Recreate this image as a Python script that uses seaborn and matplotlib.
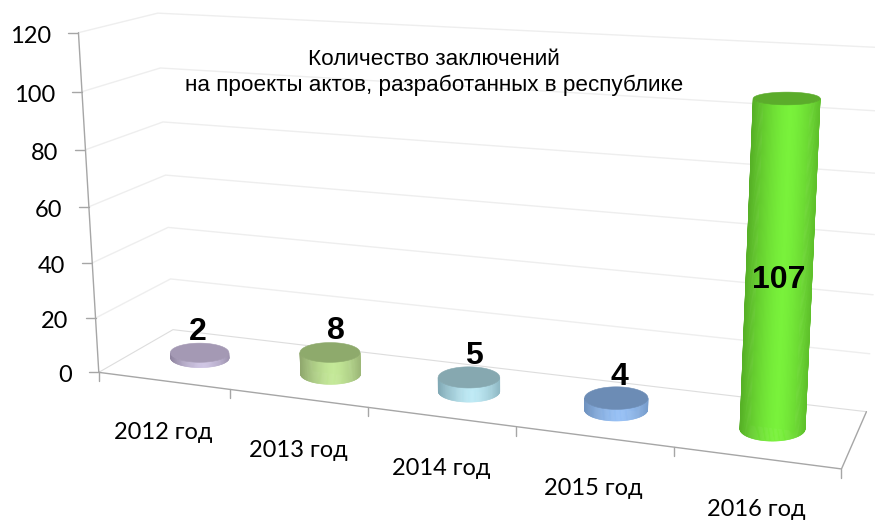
"""
3D-looking cylinder chart: conclusions on draft acts per year
"""

# imports
import numpy as np
import matplotlib
matplotlib.use("Agg")
import matplotlib.pyplot as plt
from matplotlib.colors import to_rgb
from matplotlib.transforms import Affine2D, Transform
import seaborn as sns

# data
YEARS = ['2012 год', '2013 год', '2014 год', '2015 год', '2016 год']
VALUES = [2, 8, 5, 4, 107]
Y_TICKS = [0, 20, 40, 60, 80, 100, 120]
TITLE = "Количество заключений\nна проекты актов, разработанных в республике"

# colours
SIDE_BRIGHT = ['#CFC5E4', '#C4E998', '#BEEAF5', '#96C0F5', '#79F23B']
SIDE_DARK = ['#8F849F', '#8FA76D', '#80A8B4', '#6F92BF', '#56B026']
TOP_COLOR = ['#A499B4', '#8EAA6C', '#86A8B0', '#6C8CB5', '#5BAC2B']

# settings
WIDTH, HEIGHT = 875, 520
BAR_WIDTH = 0.40
BAR_DEPTH = 0.22
MAX_RX = 33  # half width of the nearest cylinder (px), near bars shrink only half as fast
GRID = '#EEEEEE'
AXIS = '#A6A6A6'
LABEL_SHIFT = [-1.5, 5.5, 4.5, 3, 0]  # horizontal nudge of the value labels (px)

# frame calibration: (category, value, depth) -> image pixel
FRAME = [
    (0, 0, 0, 99, 372), (1, 0, 0, 230, 390), (2, 0, 0, 369, 408),
    (3, 0, 0, 517, 428), (4, 0, 0, 673, 447), (5, 0, 0, 841, 468),
    (0, 20, 0, 95, 317), (0, 80, 0, 85, 150), (0, 100, 0, 81.5, 91),
    (0, 120, 0, 79, 33),
    (0, 0, 1, 173, 329), (5, 0, 1, 866, 412),
    (0, 80, 1, 163, 122), (0, 100, 1, 160, 68), (0, 120, 1, 158, 14),
    (5, 20, 1, 870, 355), (5, 80, 1, 880, 170), (5, 100, 1, 884, 113),
]


def fit_camera(frame):
    rows, rhs = [], []
    for c, v, d, px, py in frame:
        v = v / 100
        rows.append([c, v, d, 1, 0, 0, 0, 0, -px * c, -px * v, -px * d])
        rows.append([0, 0, 0, 0, c, v, d, 1, -py * c, -py * v, -py * d])
        rhs += [px, py]
    sol = np.linalg.lstsq(np.array(rows, float), np.array(rhs, float), rcond=None)[0]
    return np.append(sol, 1).reshape(3, 4)


CAMERA = fit_camera(FRAME)


def project(c, v, d):
    c, v, d = np.broadcast_arrays(np.asarray(c, float), np.asarray(v, float),
                                  np.asarray(d, float))
    pts = np.stack([c, v / 100, d, np.ones_like(c)])
    out = np.tensordot(CAMERA, pts, axes=(1, 0))
    return out[0] / out[2], out[1] / out[2]


def ellipse(pos, value, radius, angles):
    # level ellipse around the projected bar axis, sized by the perspective there
    cx, cy = project(pos, value, 0.5)
    x_lo, _ = project(pos - radius, value, 0.5)
    x_hi, _ = project(pos + radius, value, 0.5)
    _, y_back = project(pos, value, 0.5 + BAR_DEPTH)
    _, y_front = project(pos, value, 0.5 - BAR_DEPTH)
    rx = ((x_hi - x_lo) / 2 + MAX_RX) / 2
    return (cx + rx * np.cos(angles),
            cy - (y_front - y_back) / 2 * np.sin(angles))


class BarPlane(Transform):
    """Category index and value to display, in the plane through the bar axes"""
    input_dims = 2
    output_dims = 2

    def transform_non_affine(self, values):
        px, py = project(values[:, 0] + 0.5, values[:, 1], 0.5)
        return np.column_stack([px, HEIGHT - py])


def main():
    sns.set_theme(style="white")
    plt.rcParams['font.family'] = ['Lato', 'Open Sans', 'DejaVu Sans']

    fig = plt.figure(figsize=[WIDTH / 100, HEIGHT / 100], dpi=100)
    ax = fig.add_axes([0, 0, 1, 1])
    pixels = Affine2D().scale(1, -1).translate(0, HEIGHT)

    def line(c, v, d, **kw):
        px, py = project(c, v, d)
        ax.plot(px, py, transform=pixels, clip_on=True, **kw)

    # bars first, so seaborn sets the category positions and heights
    sns.barplot(x=YEARS, y=VALUES, hue=YEARS, palette=SIDE_BRIGHT, saturation=1,
                width=BAR_WIDTH, legend=False, ax=ax, zorder=3)
    ax.set_axis_off()

    # walls and floor
    n_cat = len(YEARS)
    for tick in Y_TICKS[1:]:
        line([0, 0, n_cat], [tick] * 3, [0, 1, 1], color=GRID, lw=1, zorder=1)
    line([0, 0, n_cat], [0, 0, 0], [0, 1, 1], color='#DDDDDD', lw=0.8, zorder=1)

    # axes lines and ticks
    line([0, 0], [0, Y_TICKS[-1]], [0, 0], color=AXIS, lw=1, zorder=2)
    line([0, n_cat, n_cat], [0, 0, 0], [0, 0, 1], color=AXIS, lw=1, zorder=2)
    for tick in Y_TICKS:
        px, py = project(0, tick, 0)
        ax.plot([px - 10, px], [py, py], transform=pixels, color=AXIS, lw=1, zorder=2)
        ax.text(px - 27, py + 3.5, str(tick), transform=pixels, ha='right', va='center',
                fontsize=17, color='black')
    for pos in range(n_cat + 1):
        px, py = project(pos, 0, 0)
        ax.plot([px, px], [py, py + 9], transform=pixels, color=AXIS, lw=1, zorder=2)
    for ii, year in enumerate(YEARS):
        px, py = project(ii + 0.5, 0, 0)
        ax.text(px, py + 52, year, transform=pixels, ha='center', va='center',
                fontsize=17, color='black')

    # turn each seaborn bar into a cylinder
    plane = BarPlane()
    angles = np.linspace(np.pi, 2 * np.pi, 81)
    for ii, bar in enumerate(ax.patches):
        pos = bar.get_x() + bar.get_width() / 2 + 0.5
        radius = bar.get_width() / 2
        value = bar.get_height()

        # the flat bar stays as the core, narrow enough to sit inside the ellipses
        bar.set_transform(plane)
        bar.set_clip_on(False)
        bar.set_x(bar.get_x() + radius * 0.3)
        bar.set_width(radius * 1.4)

        bot_x, bot_y = ellipse(pos, 0, radius, angles)
        top_x, top_y = ellipse(pos, value, radius, angles)

        # side, shaded strip by strip
        dark, bright = np.array(to_rgb(SIDE_DARK[ii])), np.array(to_rgb(SIDE_BRIGHT[ii]))
        share = (1 + np.cos(angles)) / 2
        for jj in range(len(angles) - 1):
            mix = 1 - (abs(share[jj] - 0.55) / 0.55) ** 1.5
            col = dark + (bright - dark) * np.clip(mix, 0, 1)
            ax.fill([bot_x[jj], bot_x[jj + 1], top_x[jj + 1], top_x[jj]],
                    [bot_y[jj], bot_y[jj + 1], top_y[jj + 1], top_y[jj]],
                    transform=pixels, color=col, lw=0.4, zorder=4)

        # top face
        ring_x, ring_y = ellipse(pos, value, radius, np.linspace(0, 2 * np.pi, 120))
        ax.fill(ring_x, ring_y, transform=pixels, color=TOP_COLOR[ii], lw=0.4, zorder=5)

        # value label
        if value > 50:
            px, py = project(pos, value * 0.45, 0.5)
            py -= 4
        else:
            px, py = project(pos, value, 0.5)
            py -= 21
        ax.text(px + LABEL_SHIFT[ii], py, str(VALUES[ii]), transform=pixels, ha='center',
                va='center', family='Liberation Sans', fontweight='bold', fontsize=23,
                color='black', zorder=6)

    ax.text(434, 72.5, TITLE, transform=pixels, ha='center', va='center', ma='center',
            family='Liberation Sans', fontsize=16.2, color='black', linespacing=1.28)

    # save figure
    fig.savefig("out.png", dpi=100)


if __name__ == "__main__":
    main()
